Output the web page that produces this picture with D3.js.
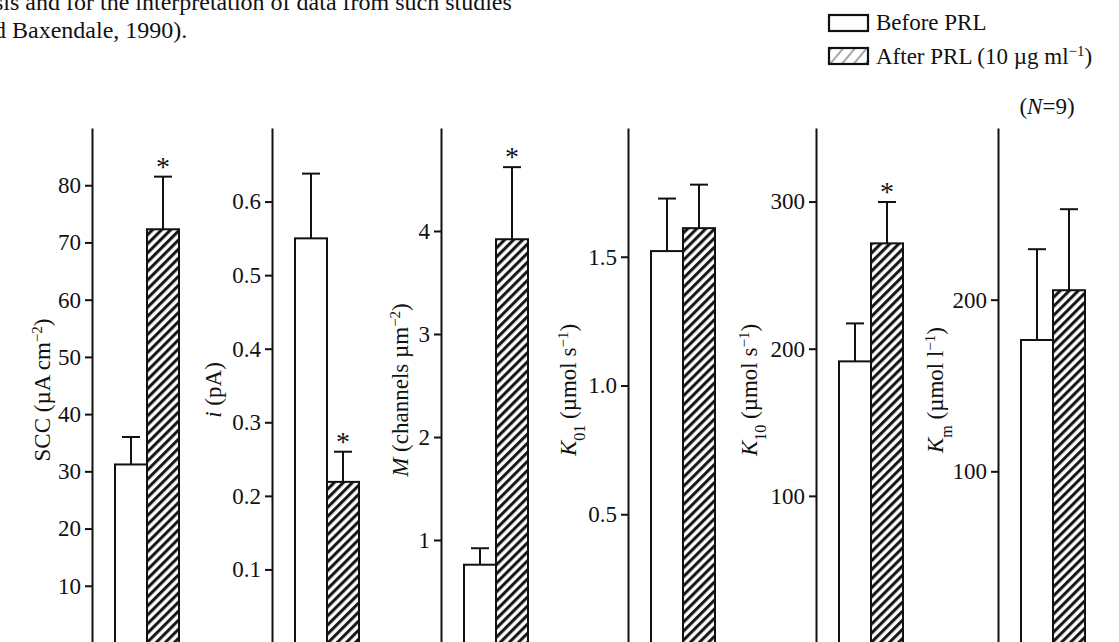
<!DOCTYPE html>
<html>
<head>
<meta charset="utf-8">
<script src="https://cdn.jsdelivr.net/npm/d3@7"></script>
<style>
  html, body { margin: 0; padding: 0; background: #fff; }
  svg { display: block; }
  text { font-family: "Liberation Serif", "Times New Roman", serif; fill: #111; }
</style>
</head>
<body>
<svg id="chart" width="1119" height="642"></svg>
<script>
// Measured quantities, mean values before and after prolactin
const groups = ["Before PRL", "After PRL"];
const scc = [31.2, 72.3];
const sccErr = [4.8, 9.2];
const current = [0.55, 0.219];
const currentErr = [0.088, 0.041];
const density = [0.76, 3.92];
const densityErr = [0.16, 0.70];
const k01 = [1.522, 1.611];
const k01Err = [0.204, 0.169];
const k10 = [191.4, 271.6];
const k10Err = [25.8, 28.1];
const km = [176.5, 205.5];
const kmErr = [52.9, 47.2];
// Which group differs significantly (marked with *)
const sccSig = [false, true];
const currentSig = [false, true];
const densitySig = [false, true];
const k01Sig = [false, false];
const k10Sig = [false, true];
const kmSig = [false, false];
// Tick values and axis maxima
const sccTicks = [10, 20, 30, 40, 50, 60, 70, 80];
const currentTicks = [0.1, 0.2, 0.3, 0.4, 0.5, 0.6];
const densityTicks = [1, 2, 3, 4];
const k01Ticks = [0.5, 1.0, 1.5];
const k10Ticks = [100, 200, 300];
const kmTicks = [100, 200];
const axisMax = [90, 0.7, 5, 2, 350, 300];

const panels = [
  { values: scc, err: sccErr, sig: sccSig, ticks: sccTicks, fmt: d3.format("d"),
    label: [["SCC (µA cm", ""], ["−2", "sup"], [")", ""]] },
  { values: current, err: currentErr, sig: currentSig, ticks: currentTicks, fmt: d3.format(".1f"),
    label: [["i", "it"], [" (pA)", ""]] },
  { values: density, err: densityErr, sig: densitySig, ticks: densityTicks, fmt: d3.format("d"),
    label: [["M", "it"], [" (channels µm", ""], ["−2", "sup"], [")", ""]] },
  { values: k01, err: k01Err, sig: k01Sig, ticks: k01Ticks, fmt: d3.format(".1f"),
    label: [["K", "it"], ["01", "sub"], [" (µmol s", ""], ["−1", "sup"], [")", ""]] },
  { values: k10, err: k10Err, sig: k10Sig, ticks: k10Ticks, fmt: d3.format("d"),
    label: [["K", "it"], ["10", "sub"], [" (µmol s", ""], ["−1", "sup"], [")", ""]] },
  { values: km, err: kmErr, sig: kmSig, ticks: kmTicks, fmt: d3.format("d"),
    label: [["K", "it"], ["m", "sub"], [" (µmol l", ""], ["−1", "sup"], [")", ""]] }
];

// Layout
const axisX = [92, 272, 441, 628, 816, 998];
const titleX = [50, 221, 408, 576, 757, 943];
const yTop = 128, yZero = 643;
const barOffset = 23, barWidth = 32;
const fontSize = 23;

const svg = d3.select("#chart");
const defs = svg.append("defs");

// Diagonal hatch for bars
defs.append("pattern")
  .attr("id", "hatch")
  .attr("patternUnits", "userSpaceOnUse")
  .attr("width", 6.4).attr("height", 6.4)
  .attr("patternTransform", "rotate(45)")
  .append("line")
  .attr("x1", 1.6).attr("y1", -1).attr("x2", 1.6).attr("y2", 8)
  .attr("stroke", "#111").attr("stroke-width", 3);

// Light, sparse hatch for the legend swatch
defs.append("pattern")
  .attr("id", "hatchLight")
  .attr("patternUnits", "userSpaceOnUse")
  .attr("width", 9).attr("height", 9)
  .attr("patternTransform", "rotate(40)")
  .append("line")
  .attr("x1", 2).attr("y1", -1).attr("x2", 2).attr("y2", 10)
  .attr("stroke", "#777").attr("stroke-width", 1.3);

// Running text above the figure
const bodyText = svg.append("g").attr("font-size", 24);
bodyText.append("text").attr("x", -6).attr("y", 10)
  .text("sis and for the interpretation of data from such studies");
bodyText.append("text").attr("x", -6).attr("y", 38)
  .text("d Baxendale, 1990).");

// Legend
const legend = svg.append("g");
const legendRows = [
  { name: groups[0], fill: "#fff", y: 15 },
  { name: groups[1], fill: "url(#hatchLight)", y: 48 }
];
legendRows.forEach(r => {
  legend.append("rect").attr("x", 829).attr("y", r.y).attr("width", 39).attr("height", 16)
    .attr("fill", r.fill).attr("stroke", "#111").attr("stroke-width", 2.2);
});
legend.append("text").attr("x", 876).attr("y", 30).attr("font-size", fontSize).text(groups[0]);
const lt = legend.append("text").attr("x", 876).attr("y", 64).attr("font-size", fontSize);
lt.append("tspan").text(groups[1] + " (10 µg ml");
lt.append("tspan").attr("baseline-shift", "super").attr("font-size", 15).text("−1");
lt.append("tspan").text(")");

const nt = svg.append("text").attr("x", 1047).attr("y", 114).attr("text-anchor", "middle")
  .attr("font-size", fontSize);
nt.append("tspan").text("(");
nt.append("tspan").attr("font-style", "italic").text("N");
nt.append("tspan").text("=9)");

panels.forEach((p, i) => {
  const ax = axisX[i];
  const g = svg.append("g");
  const y = d3.scaleLinear().domain([0, axisMax[i]]).range([yZero, yTop]);
  const x = d3.scaleBand().domain(groups)
    .range([ax + barOffset, ax + barOffset + 2 * barWidth]).paddingInner(0);

  // Bars
  g.selectAll("rect.bar").data(p.values).join("rect")
    .attr("class", "bar")
    .attr("x", (d, j) => x(groups[j]))
    .attr("y", d => y(d))
    .attr("width", x.bandwidth())
    .attr("height", d => yZero - y(d) + 10)
    .attr("fill", (d, j) => j === 0 ? "#fff" : "url(#hatch)")
    .attr("stroke", "#111").attr("stroke-width", 2);

  // Error bars (upper only)
  const cx = j => x(groups[j]) + x.bandwidth() / 2;
  g.selectAll("line.err").data(p.values).join("line")
    .attr("class", "err")
    .attr("x1", (d, j) => cx(j)).attr("x2", (d, j) => cx(j))
    .attr("y1", d => y(d)).attr("y2", (d, j) => y(d + p.err[j]))
    .attr("stroke", "#111").attr("stroke-width", 2);
  g.selectAll("line.cap").data(p.values).join("line")
    .attr("class", "cap")
    .attr("x1", (d, j) => cx(j) - 9).attr("x2", (d, j) => cx(j) + 9)
    .attr("y1", (d, j) => y(d + p.err[j])).attr("y2", (d, j) => y(d + p.err[j]))
    .attr("stroke", "#111").attr("stroke-width", 2);

  // Significance markers
  g.selectAll("text.sig").data(p.values.map((d, j) => ({ d, j })).filter(o => p.sig[o.j])).join("text")
    .attr("class", "sig")
    .attr("x", o => cx(o.j)).attr("y", o => y(o.d + p.err[o.j]) - 1)
    .attr("text-anchor", "middle").attr("font-size", 28)
    .text("*");

  // Y axis
  const axis = d3.axisLeft(y).tickValues(p.ticks).tickFormat(p.fmt)
    .tickSize(7).tickSizeOuter(0).tickPadding(4);
  const ag = g.append("g").attr("transform", `translate(${ax},0)`).call(axis);
  ag.select(".domain").attr("stroke", "#111").attr("stroke-width", 2);
  ag.selectAll(".tick line").attr("stroke", "#111").attr("stroke-width", 2);
  ag.selectAll(".tick text").attr("font-size", fontSize)
    .attr("font-family", "Liberation Serif, serif").attr("fill", "#111");

  // Axis title
  const lab = g.append("text")
    .attr("transform", `translate(${titleX[i]},390) rotate(-90)`)
    .attr("text-anchor", "middle").attr("font-size", fontSize);
  p.label.forEach(([s, kind]) => {
    const t = lab.append("tspan").text(s);
    if (kind === "it") t.attr("font-style", "italic");
    if (kind === "sup") t.attr("baseline-shift", "super").attr("font-size", 15);
    if (kind === "sub") t.attr("baseline-shift", "sub").attr("font-size", 16);
  });
});
</script>
</body>
</html>
